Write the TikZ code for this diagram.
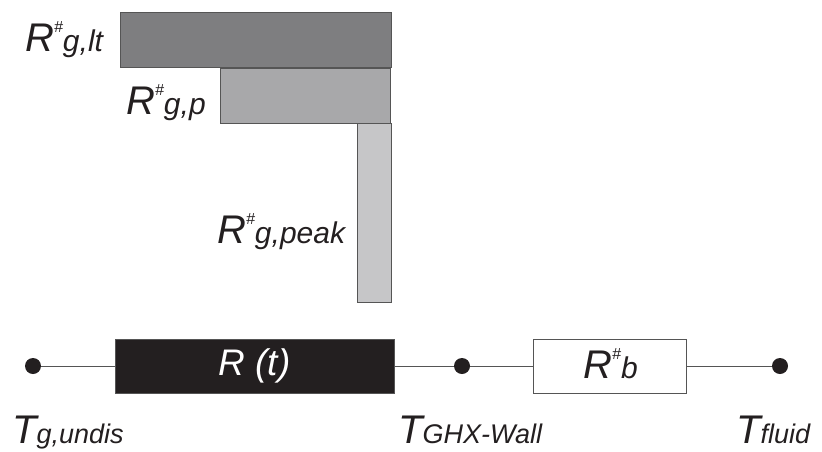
\documentclass[tikz,border=0pt]{standalone}
\usepackage{fontspec}
\setmainfont{Liberation Sans}
\newcommand{\fsz}[1]{\fontsize{#1}{#1}\selectfont}
\newcommand{\Rlab}[1]{{\fsz{40}R}\raisebox{19pt}{\fsz{16}\#}{\fsz{30}#1}}
\newcommand{\Tlab}[1]{{\fsz{40}T}{\fsz{27}#1}}
\definecolor{barA}{HTML}{7E7E80}
\definecolor{barB}{HTML}{A8A8AA}
\definecolor{barC}{HTML}{C6C6C8}
\definecolor{edge}{HTML}{555555}
\definecolor{ink}{HTML}{231F20}
\tikzset{
  bar/.style={draw=edge, line width=0.8pt, anchor=north west, inner sep=0pt, outer sep=0pt},
  res/.style={draw=edge, line width=0.8pt, anchor=north west, inner sep=0pt, outer sep=0pt, minimum height=54pt},
  lab/.style={anchor=base west, inner sep=0pt, font=\itshape, text=ink},
  dot/.style={circle, fill=ink, inner sep=0pt, minimum size=16pt},
  wire/.style={draw=edge, line width=0.8pt}
}
\begin{document}
\begin{tikzpicture}[x=1pt, y=-1pt]
\useasboundingbox (0,0) rectangle (822,451);
% bars
\node[bar, fill=barA, minimum width=271pt, minimum height=55pt] (blt) at (120,12) {};
\node[bar, fill=barB, minimum width=170pt, minimum height=55pt] (bp) at (220,68) {};
\node[bar, fill=barC, minimum width=34pt, minimum height=179pt] (bpk) at (357,123) {};
% bar labels
\node[lab] (llt) at (25,51) {\Rlab{g,lt}};
\node[lab] (lp) at (126,114) {\Rlab{g,p}};
\node[lab] (lpk) at (217,243) {\Rlab{g,peak}};
% circuit
\node[dot] (d1) at (33,366) {};
\node[dot] (d2) at (462,366) {};
\node[dot] (d3) at (780,366) {};
\node[res, fill=ink, minimum width=279pt] (rt) at (115,339) {};
\node[lab, text=white, anchor=center] (rtl) at (rt.center) {\fsz{37}R (t)};
\node[res, fill=white, minimum width=153pt] (rb) at (533,339) {};
\node[lab, anchor=center] (rbl) at ([xshift=1pt,yshift=2pt]rb.center) {\Rlab{b}};
\draw[wire] (d1) -- (rt.west);
\draw[wire] (rt.east) -- (d2);
\draw[wire] (d2) -- (rb.west);
\draw[wire] (rb.east) -- (d3);
% temperature labels
\node[lab] (t1) at (12,443) {\Tlab{g,undis}};
\node[lab] (t2) at (398,443) {\Tlab{GHX-Wall}};
\node[lab] (t3) at (736,443) {\Tlab{fluid}};
\end{tikzpicture}
\end{document}
